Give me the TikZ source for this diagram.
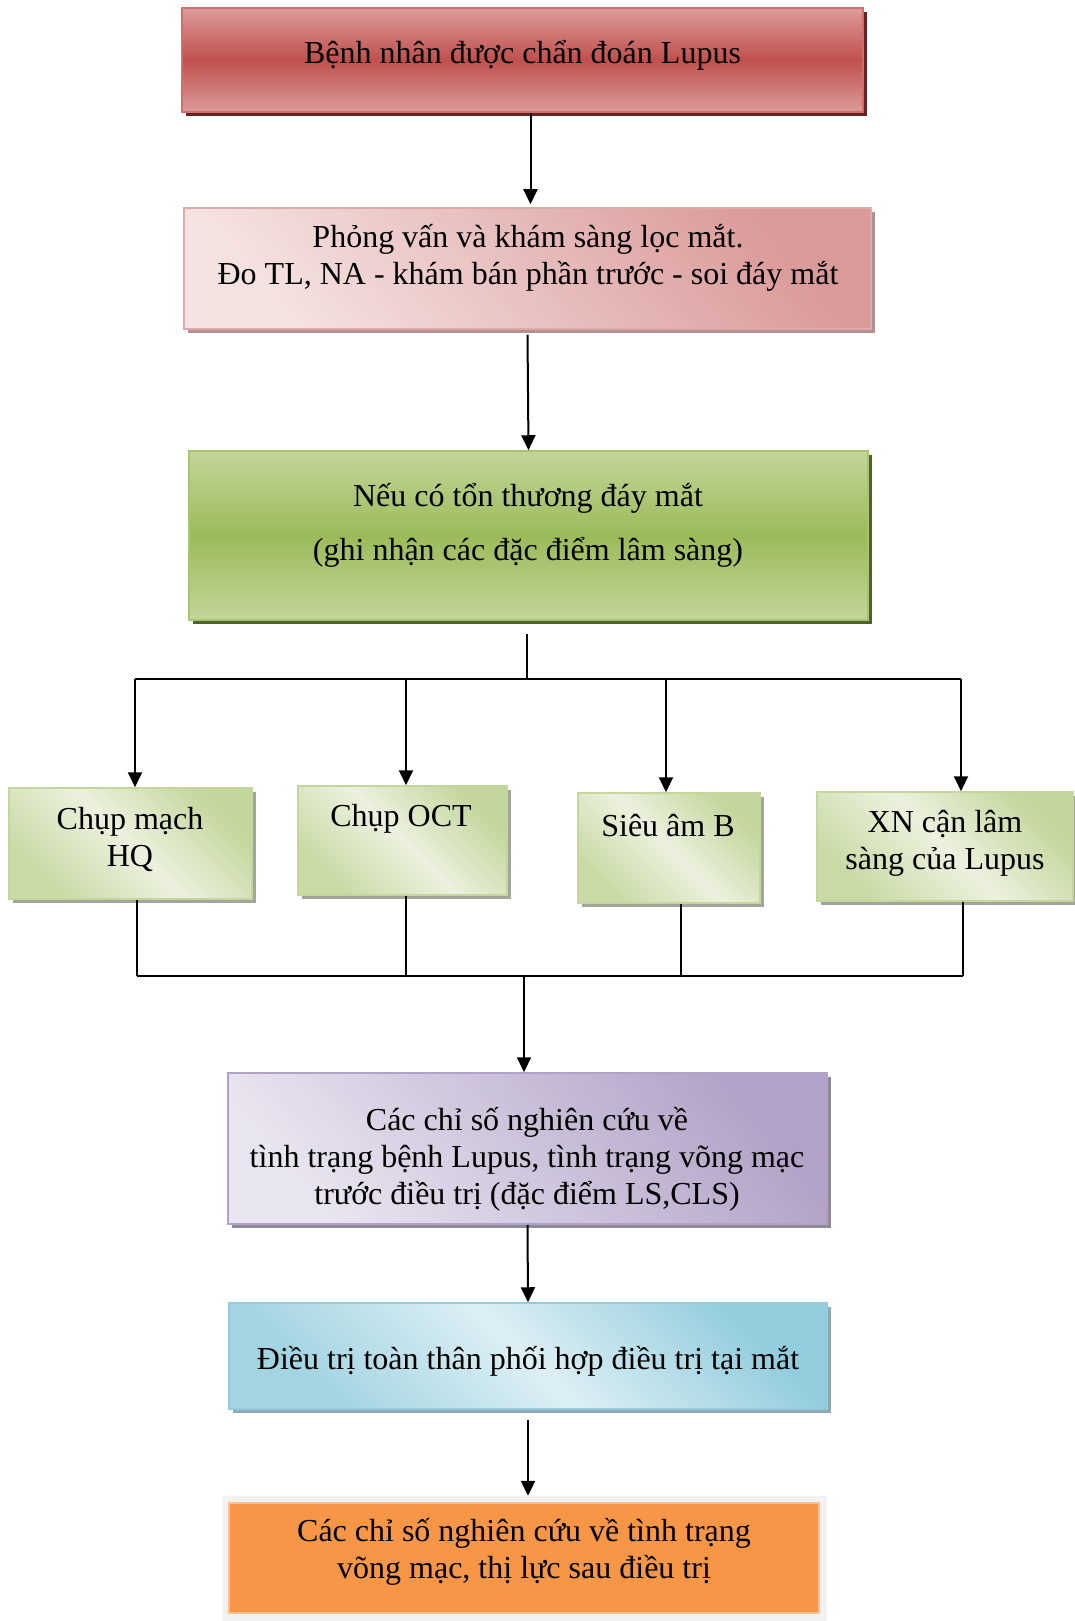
\documentclass[tikz,border=0pt]{standalone}
\usepackage{fontspec}
\setmainfont{Liberation Serif}
\usetikzlibrary{shadows,arrows.meta}
\definecolor{redmid}{HTML}{C0504D}
\definecolor{redlight}{HTML}{DB9C9A}
\definecolor{redborder}{HTML}{D06E6B}
\definecolor{redshadow}{HTML}{632523}
\definecolor{pinkdark}{HTML}{DA9A99}
\definecolor{pinklight}{HTML}{F4E2E1}
\definecolor{pinkborder}{HTML}{E0A8A7}
\definecolor{pinkshadow}{HTML}{AE9292}
\definecolor{greenmid}{HTML}{9BBB59}
\definecolor{greenlight}{HTML}{C3D69B}
\definecolor{greenborder}{HTML}{A8C46E}
\definecolor{greenshadow}{HTML}{4F6228}
\definecolor{sgreenlight}{HTML}{EBF1DE}
\definecolor{sgreendark}{HTML}{C3D69B}
\definecolor{sgreenshadow}{HTML}{A0A69A}
\definecolor{purpdark}{HTML}{B3A2C7}
\definecolor{purplight}{HTML}{E9E5F0}
\definecolor{purpshadow}{HTML}{8E8A96}
\definecolor{bluedark}{HTML}{93CDDD}
\definecolor{bluelight}{HTML}{DDEFF4}
\definecolor{blueshadow}{HTML}{8EABB4}
\definecolor{orangefill}{HTML}{F79646}
\definecolor{orangeborder}{HTML}{FAC090}
\definecolor{framegray}{HTML}{F2F2F2}
\tikzset{
  boxbase/.style={rectangle, inner sep=0pt, line width=1.5pt},
  redbox/.style={boxbase, draw=redborder, top color=redlight, bottom color=redlight, middle color=redmid,
    drop shadow={shadow xshift=4pt, shadow yshift=-4pt, fill=redshadow, opacity=1}},
  pinkbox/.style={boxbase, draw=pinkborder, top color=pinkdark, bottom color=pinklight, shading angle=-50,
    drop shadow={shadow xshift=4pt, shadow yshift=-4pt, fill=pinkshadow, opacity=1}},
  greenbox/.style={boxbase, draw=greenborder, top color=greenlight, bottom color=greenlight, middle color=greenmid,
    drop shadow={shadow xshift=4pt, shadow yshift=-4pt, fill=greenshadow, opacity=1}},
  sgreenbox/.style={boxbase, draw=sgreendark, top color=sgreendark, bottom color=sgreendark!85!sgreenlight, middle color=sgreenlight, shading angle=-45,
    drop shadow={shadow xshift=4pt, shadow yshift=-4pt, fill=sgreenshadow, opacity=1}},
  purpbox/.style={boxbase, draw=purpdark, top color=purpdark, bottom color=purplight, shading angle=-50,
    drop shadow={shadow xshift=4pt, shadow yshift=-4pt, fill=purpshadow, opacity=1}},
  bluebox/.style={boxbase, draw=bluedark, top color=bluedark, bottom color=bluedark!80!bluelight, middle color=bluelight, shading angle=-45,
    drop shadow={shadow xshift=4pt, shadow yshift=-4pt, fill=blueshadow, opacity=1}},
  orangebox/.style={boxbase, draw=orangeborder, line width=2pt, fill=orangefill},
  framebox/.style={rectangle, inner sep=0pt, fill=framegray},
  txt/.style={inner sep=0pt, align=center, font=\fontsize{32}{37}\selectfont},
  conn/.style={line width=2pt, black},
  arr/.style={conn, -{Triangle[length=15pt,width=14pt]}}
}
\begin{document}
\begin{tikzpicture}[x=1pt,y=-1pt]
\useasboundingbox[fill=white] (0,0) rectangle (1075,1621);
% boxes
\node[redbox, minimum width=681pt, minimum height=104pt] (b1) at (522.5,60) {};
\node[pinkbox, minimum width=687pt, minimum height=121pt] (b2) at (527.5,268.5) {};
\node[greenbox, minimum width=679pt, minimum height=169pt] (b3) at (528.5,535.5) {};
\node[sgreenbox, minimum width=243pt, minimum height=111pt] (sa) at (130.5,843.5) {};
\node[sgreenbox, minimum width=209pt, minimum height=109pt] (sb) at (402.5,840.5) {};
\node[sgreenbox, minimum width=182pt, minimum height=110pt] (sc) at (669,848) {};
\node[sgreenbox, minimum width=256pt, minimum height=109pt] (sd) at (945,846.5) {};
\node[purpbox, minimum width=599pt, minimum height=151pt] (b5) at (527.5,1148.5) {};
\node[bluebox, minimum width=598pt, minimum height=106pt] (b6) at (528,1356) {};
\node[framebox, minimum width=604pt, minimum height=125pt] (fr) at (525,1558.5) {};
\node[orangebox, minimum width=590pt, minimum height=110pt] (b7) at (524,1558) {};
% texts
\node[txt] (t1) at (522.5,55) {Bệnh nhân được chẩn đoán Lupus};
\node[txt] (t2) at (528,258) {Phỏng vấn và khám sàng lọc mắt.\\Đo TL, NA - khám bán phần trước - soi đáy mắt};
\node[txt, font=\fontsize{32}{54}\selectfont] (t3) at (528,525) {Nếu có tổn thương đáy mắt\\(ghi nhận các đặc điểm lâm sàng)};
\node[txt] (ta) at (130,839) {Chụp mạch\\HQ};
\node[txt] (tb) at (401,819) {Chụp OCT};
\node[txt] (tc) at (668,826) {Siêu âm B};
\node[txt] (td) at (945,843) {XN cận lâm\\sàng của Lupus};
\node[txt] (t5) at (527,1159) {Các chỉ số nghiên cứu về\\tình trạng bệnh Lupus, tình trạng võng mạc\\trước điều trị (đặc điểm LS,CLS)};
\node[txt] (t6) at (528,1361) {Điều trị toàn thân phối hợp điều trị tại mắt};
\node[txt] (t7) at (524,1552) {Các chỉ số nghiên cứu về tình trạng\\võng mạc, thị lực sau điều trị};
% connector coordinates
\coordinate (s3) at (527,634);
\coordinate (j1) at (527,679);
\coordinate (ja) at (135,679);
\coordinate (jb) at (406,679);
\coordinate (jc) at (666,679);
\coordinate (jd) at (961,679);
\coordinate (ka) at (137,976);
\coordinate (kb) at (406,976);
\coordinate (kc) at (681,976);
\coordinate (kd) at (963,976);
\coordinate (k0) at (524,976);
% connectors
\draw[arr] ([xshift=8pt]b1.south) -- ([xshift=8pt,yshift=3pt]b1.south |- b2.north);
\draw[arr] ([yshift=-5pt]b2.south) -- (b3.north);
\draw[conn] (s3) -- (j1);
\draw[conn] (ja) -- (jd);
\draw[arr] (ja) -- (ja |- sa.north);
\draw[arr] (jb) -- (jb |- sb.north);
\draw[arr] (jc) -- (jc |- sc.north);
\draw[arr] (jd) -- (jd |- sd.north);
\draw[conn] (ka |- sa.south) -- (ka);
\draw[conn] (kb |- sb.south) -- (kb);
\draw[conn] (kc |- sc.south) -- (kc);
\draw[conn] (kd |- sd.south) -- (kd);
\draw[conn] (ka) -- (kd);
\draw[arr] (k0) -- (k0 |- b5.north);
\draw[arr] (b5.south) -- (b6.north);
\draw[arr] ([yshift=-10pt]b6.south) -- (b6.south |- fr.north);
\end{tikzpicture}
\end{document}
